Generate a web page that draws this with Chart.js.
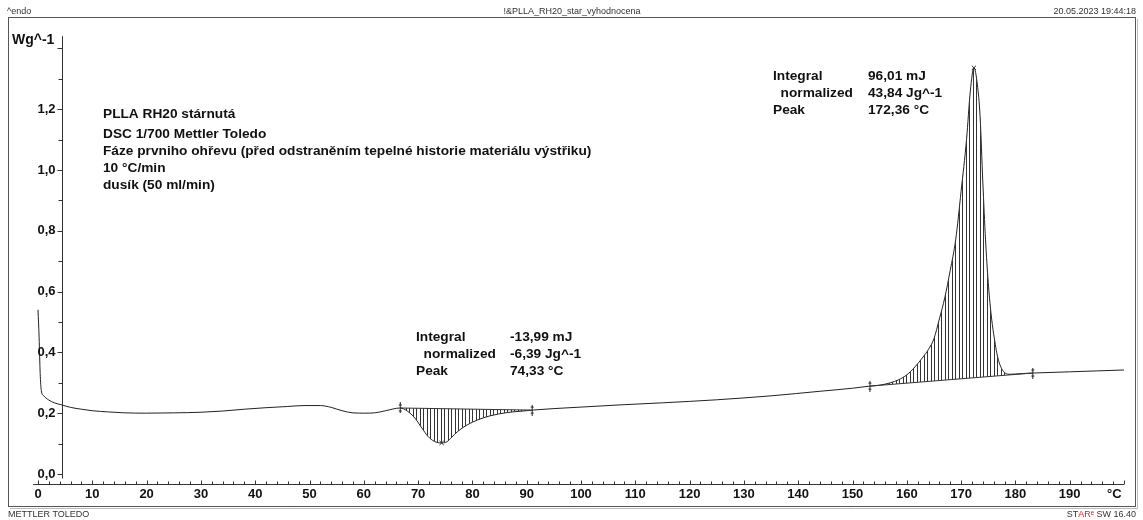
<!DOCTYPE html>
<html lang="cs">
<head>
<meta charset="utf-8">
<title>PLLA RH20 stárnutá - DSC</title>
<script src="https://cdn.jsdelivr.net/npm/chart.js@4.4.0/dist/chart.umd.min.js"></script>
<style>
  html, body { margin: 0; padding: 0; background: #fff; }
  #wrap { width: 1143px; height: 520px; }
</style>
</head>
<body>
<div id="wrap"><canvas id="dsc" width="1143" height="520"></canvas></div>
<script>
// teplota (°C) a tepelný tok (W/g)
const teplota = [0.0, 0.2, 0.4, 0.6, 1.0, 2.0, 3.0, 4.4, 6.0, 8.0, 10, 13, 16, 20, 25, 30, 34, 38, 42, 46, 49, 52, 54, 56, 58, 60, 62, 64,
  66.7, 68, 69.4, 70.7, 71.8, 73, 74.33, 75.3, 76.2, 77.3, 79, 81, 83.2, 86.4, 89.3, 91.0,
  95, 100, 107, 115, 125, 135, 144, 150,
  153.2, 155, 157, 158.5, 160, 161.5, 163, 164, 165, 166, 167, 168, 169, 170, 171, 171.7, 172.36, 173, 173.5, 174, 174.5, 175, 175.5, 176, 176.8, 177.7, 179, 181, 183.2,
  190, 195, 200];
const tok = [0.54, 0.45, 0.33, 0.275, 0.258, 0.243, 0.234, 0.227, 0.219, 0.213, 0.208, 0.204, 0.201, 0.200, 0.201, 0.203, 0.207, 0.213, 0.218, 0.222, 0.225, 0.225, 0.219, 0.208, 0.201, 0.200, 0.201, 0.208,
  0.217, 0.207, 0.184, 0.151, 0.124, 0.107, 0.102, 0.106, 0.121, 0.140, 0.161, 0.178, 0.191, 0.202, 0.207, 0.210,
  0.215, 0.220, 0.227, 0.234, 0.244, 0.257, 0.272, 0.282,
  0.289, 0.292, 0.300, 0.310, 0.326, 0.352, 0.385, 0.410, 0.445, 0.510, 0.580, 0.670, 0.770, 0.930, 1.100, 1.260, 1.336, 1.280, 1.175, 0.960, 0.770, 0.630, 0.530, 0.460, 0.380, 0.340, 0.328, 0.330, 0.332,
  0.336, 0.339, 0.342];

// integrační meze a základní linie
const zaklad1T = [66.7, 91.0];
const zaklad1Y = [0.217, 0.210];
const zaklad2T = [153.2, 183.2];
const zaklad2Y = [0.289, 0.332];

// vrcholy píků
const vrcholT = [74.33, 172.36];
const vrcholY = [0.102, 1.336];

// popisky os
const xTicky = [0, 10, 20, 30, 40, 50, 60, 70, 80, 90, 100, 110, 120, 130, 140, 150, 160, 170, 180, 190];
const yTicky = [0.0, 0.2, 0.4, 0.6, 0.8, 1.0, 1.2];
const yPopisky = ['0,0', '0,2', '0,4', '0,6', '0,8', '1,0', '1,2'];

const popisPik1 = [['Integral', '-13,99 mJ'], ['  normalized', '-6,39 Jg^-1'], ['Peak', '74,33 °C']];
const popisPik2 = [['Integral', '96,01 mJ'], ['  normalized', '43,84 Jg^-1'], ['Peak', '172,36 °C']];
const popisVzorku = ['PLLA RH20 stárnutá', 'DSC 1/700 Mettler Toledo',
  'Fáze prvniho ohřevu (před odstraněním tepelné historie materiálu výstřiku)', '10 °C/min', 'dusík (50 ml/min)'];

const body = (xs, ys) => xs.map((v, i) => ({ x: v, y: ys[i] }));
const usek = (a, b) => body(teplota, tok).filter(p => p.x >= a && p.x <= b);

const canvas = document.getElementById('dsc');
const ctx = canvas.getContext('2d');

// šrafování - svislé čáry (2 čáry na 7 px)
const pc = document.createElement('canvas');
pc.width = 7; pc.height = 4;
const pctx = pc.getContext('2d');
pctx.fillStyle = '#333';
pctx.fillRect(0, 0, 1, 4);
pctx.fillRect(3, 0, 1, 4);
const srafa = ctx.createPattern(pc, 'repeat');

// značka integrační meze
const mez = document.createElement('canvas');
mez.width = 5; mez.height = 11;
const mctx = mez.getContext('2d');
mctx.fillStyle = '#222';
mctx.fillRect(2, 0, 1, 11);
mctx.fillRect(1, 2, 3, 1);
mctx.fillRect(1, 8, 3, 1);

const FONT = '"Liberation Sans", Arial, sans-serif';
const osaYna = 4.4;     // svislá osa stojí u 4,4 °C
const osaXna = -0.033;  // vodorovná osa pod nulou

const ramecek = {
  id: 'ramecek',
  afterDraw(chart) {
    const { ctx, scales: { x, y } } = chart;
    ctx.save();
    // rámeček
    ctx.strokeStyle = '#555';
    ctx.lineWidth = 1;
    ctx.strokeRect(8.5, 17.5, 1127, 489);
    ctx.strokeStyle = '#bbb';
    ctx.beginPath();
    ctx.moveTo(1137.5, 19); ctx.lineTo(1137.5, 508.5); ctx.lineTo(10, 508.5);
    ctx.stroke();

    // hlavička a patička
    ctx.fillStyle = '#333';
    ctx.font = '9px ' + FONT;
    ctx.textBaseline = 'middle';
    ctx.textAlign = 'left';
    ctx.fillText('^endo', 7, 12);
    ctx.fillText('METTLER TOLEDO', 8, 515);
    ctx.textAlign = 'center';
    ctx.fillText('!&PLLA_RH20_star_vyhodnocena', 572, 12);
    ctx.textAlign = 'right';
    ctx.fillText('20.05.2023 19:44:18', 1136, 12);
    let px = 1136;
    const casti = [['SW 16.40', '#333'], ['\u1D49 ', '#d22'], ['AR', '#d22'], ['ST', '#333']];
    casti.forEach(([t, c]) => { ctx.fillStyle = c; ctx.fillText(t, px, 515); px -= ctx.measureText(t).width; });

    // osa Y
    ctx.strokeStyle = '#333';
    ctx.fillStyle = '#111';
    const yx = Math.round(x.getPixelForValue(osaYna)) + 0.5;
    ctx.beginPath();
    ctx.moveTo(yx, y.getPixelForValue(1.44));
    ctx.lineTo(yx, y.getPixelForValue(-0.015));
    ctx.stroke();
    for (let k = 0; k <= 14; k++) {
      const py = Math.round(y.getPixelForValue(k / 10)) + 0.5;
      ctx.beginPath();
      ctx.moveTo(yx - (k % 2 === 0 ? 5 : 4), py);
      ctx.lineTo(yx, py);
      ctx.stroke();
    }
    ctx.font = 'bold 13px ' + FONT;
    ctx.textAlign = 'right';
    yTicky.forEach((v, i) => ctx.fillText(yPopisky[i], yx - 7, y.getPixelForValue(v)));
    ctx.font = 'bold 14px ' + FONT;
    ctx.textAlign = 'left';
    ctx.fillText('Wg^-1', 12, 40);

    // osa X
    const xy = Math.round(y.getPixelForValue(osaXna)) + 0.5;
    ctx.beginPath();
    ctx.moveTo(x.getPixelForValue(-0.9), xy);
    ctx.lineTo(x.getPixelForValue(200), xy);
    ctx.stroke();
    for (let t = 0; t <= 200; t += 2) {
      const pxx = Math.round(x.getPixelForValue(t)) + 0.5;
      ctx.beginPath();
      ctx.moveTo(pxx, xy);
      ctx.lineTo(pxx, xy - (t % 10 === 0 ? 4 : 3));
      ctx.stroke();
    }
    ctx.font = 'bold 13px ' + FONT;
    ctx.textAlign = 'center';
    xTicky.forEach(v => ctx.fillText(String(v), x.getPixelForValue(v), 494));
    ctx.fillText('°C', x.getPixelForValue(198.2), 494);

    // texty
    ctx.font = 'bold 13.7px ' + FONT;
    ctx.textAlign = 'left';
    popisVzorku.forEach((t, i) => ctx.fillText(t, 103, i === 0 ? 114 : 117 + i * 17));
    popisPik1.forEach(([a, b], i) => { ctx.fillText(a, 416, 337 + i * 17); ctx.fillText(b, 510, 337 + i * 17); });
    popisPik2.forEach(([a, b], i) => { ctx.fillText(a, 773, 76 + i * 17); ctx.fillText(b, 868, 76 + i * 17); });
    ctx.restore();
  }
};

new Chart(ctx, {
  type: 'line',
  data: {
    datasets: [
      { // 0 základní linie 1
        data: body(zaklad1T, zaklad1Y), borderColor: '#333', borderWidth: 1, pointRadius: 0, fill: false
      },
      { // 1 základní linie 2
        data: body(zaklad2T, zaklad2Y), borderColor: '#333', borderWidth: 1, pointRadius: 0, fill: false
      },
      { // 2 šrafa pík 1
        data: usek(zaklad1T[0], zaklad1T[1]), borderWidth: 0, borderColor: 'rgba(0,0,0,0)', pointRadius: 0,
        cubicInterpolationMode: 'monotone', backgroundColor: srafa, fill: 0
      },
      { // 3 šrafa pík 2
        data: usek(zaklad2T[0], zaklad2T[1]), borderWidth: 0, borderColor: 'rgba(0,0,0,0)', pointRadius: 0,
        cubicInterpolationMode: 'monotone', backgroundColor: srafa, fill: 1
      },
      { // 4 křivka DSC
        data: body(teplota, tok), borderColor: '#222', borderWidth: 1, pointRadius: 0,
        cubicInterpolationMode: 'monotone', fill: false
      },
      { // 5 meze
        data: body([...zaklad1T, ...zaklad2T], [...zaklad1Y, ...zaklad2Y]), showLine: false,
        pointStyle: mez, pointRadius: 5
      },
      { // 6 vrcholy
        data: body(vrcholT, vrcholY), showLine: false, pointStyle: 'crossRot', pointRadius: 3,
        borderColor: '#333', borderWidth: 1
      }
    ]
  },
  options: {
    responsive: false,
    devicePixelRatio: 1,
    animation: false,
    events: [],
    layout: { padding: { left: 35.3, right: 19, top: 36.2, bottom: 35.4 } },
    plugins: { legend: { display: false }, tooltip: { enabled: false } },
    scales: {
      x: { type: 'linear', min: -0.5, max: 200, display: false },
      y: { type: 'linear', min: -0.035, max: 1.44, display: false }
    }
  },
  plugins: [ramecek]
});
</script>
</body>
</html>
